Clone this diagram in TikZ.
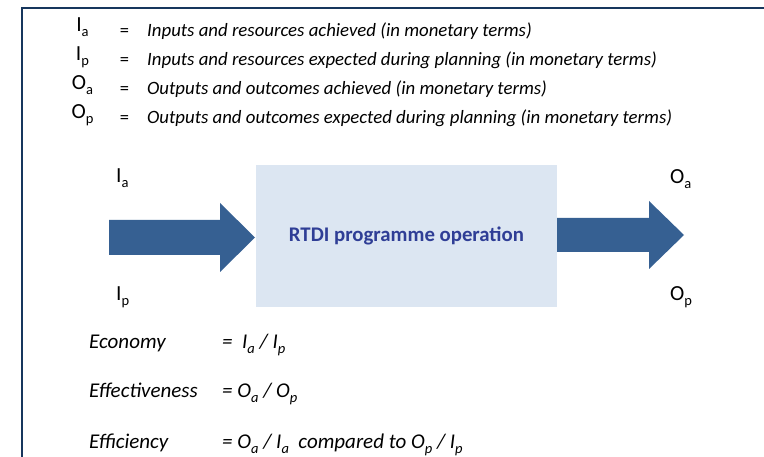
\documentclass[tikz,border=0pt]{standalone}
\usepackage{fontspec}
\setmainfont{Carlito}
\definecolor{framec}{RGB}{23,54,93}
\definecolor{arrowc}{RGB}{54,96,146}
\definecolor{boxc}{RGB}{220,230,242}
\definecolor{boxtext}{RGB}{47,62,150}
\newcommand\lo[1]{\raisebox{-4.5pt}{\fontsize{14.5}{14.5}\selectfont #1}}
\begin{document}
\begin{tikzpicture}[x=1pt,y=-1pt,
  sym/.style={inner sep=0pt,anchor=base,font=\fontsize{21.5}{24}\selectfont},
  eq/.style={inner sep=0pt,anchor=base,font=\fontsize{18.5}{20}\selectfont},
  legtext/.style={inner sep=0pt,anchor=base west,font=\fontsize{18.8}{22}\selectfont\itshape},
  lbl/.style={inner sep=0pt,anchor=base west,font=\fontsize{21.5}{24}\selectfont},
  formula/.style={inner sep=0pt,anchor=base west,font=\fontsize{21}{24}\selectfont\itshape},
  bigarrow/.style={fill=arrowc}]
\useasboundingbox (0,0) rectangle (764,457);
\fill[white] (0,0) rectangle (764,457);
\draw[line width=2pt,color=framec] (22,458) -- (22,8) -- (765,8);
% legend
\node[sym] (s1) at (82.5,32) {I\lo{a}};
\node[sym] (s2) at (82.5,61) {I\lo{p}};
\node[sym] (s3) at (82.5,90) {O\lo{a}};
\node[sym] (s4) at (82.5,119) {O\lo{p}};
\node[eq] (e1) at (124.5,37) {=};
\node[eq] (e2) at (124.5,66) {=};
\node[eq] (e3) at (124.5,95) {=};
\node[eq] (e4) at (124.5,124) {=};
\node[legtext] (t1) at (147,37) {Inputs and resources achieved (in monetary terms)};
\node[legtext] (t2) at (147,66) {Inputs and resources expected during planning (in monetary terms)};
\node[legtext] (t3) at (147,95) {Outputs and outcomes achieved (in monetary terms)};
\node[legtext] (t4) at (147,124) {Outputs and outcomes expected during planning (in monetary terms)};
% box
\node[fill=boxc,minimum width=301pt,minimum height=142pt,inner sep=0pt,
  font=\fontsize{20.8}{24}\selectfont\bfseries,text=boxtext] (box) at (406.5,236) {RTDI programme operation};
% arrows
\fill[bigarrow] (109,220) -- (220,220) -- (220,203) -- (255,237.5) -- (220,272) -- (220,255) -- (109,255) -- cycle;
\fill[bigarrow] (box.east |- 0,218) -- (649,218) -- (649,201) -- (684,235) -- (649,269) -- (649,252) -- (box.east |- 0,252) -- cycle;
% arrow labels
\node[lbl] (ia) at (116,183) {I\lo{a}};
\node[lbl] (ip) at (116,301) {I\lo{p}};
\node[lbl] (oa) at (670,184) {O\lo{a}};
\node[lbl] (op) at (670,301) {O\lo{p}};
% formulas
\node[formula] (f1) at (89,349) {Economy};
\node[formula] (f2) at (89,398) {Effectiveness};
\node[formula] (f3) at (89,449) {Efficiency};
\node[formula] (g1) at (222,349) {=\ \ I\lo{a} / I\lo{p}};
\node[formula] (g2) at (222,398) {= O\lo{a} / O\lo{p}};
\node[formula] (g3) at (222,449) {= O\lo{a} / I\lo{a}\ \ compared to O\lo{p} / I\lo{p}};
\end{tikzpicture}
\end{document}
